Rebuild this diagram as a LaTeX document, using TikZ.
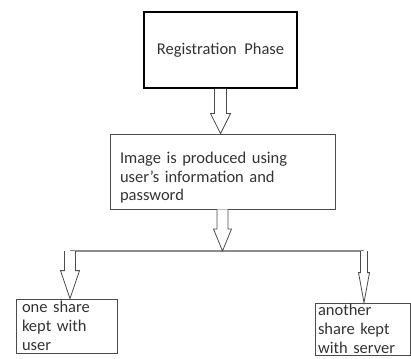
\documentclass[tikz,border=0pt]{standalone}
\usepackage{fontspec}
\setmainfont{Carlito}
\usetikzlibrary{positioning, calc}

% hollow block arrow pointing down: stem half width, head half width, head length, from, to
\newcommand{\hollowdown}[5]{%
  \draw[hollow] let \p1=(#4), \p2=(#5) in
    (\x1-#1,\y1) -- (\x1-#1,\y2+#3) -- (\x1-#2,\y2+#3) -- (\x1,\y2)
    -- (\x1+#2,\y2+#3) -- (\x1+#1,\y2+#3) -- (\x1+#1,\y1);}

\begin{document}
\begin{tikzpicture}[
    x=1pt, y=-1pt,
    box/.style={draw=black!70, line width=0.8pt, align=left, text=black!80,
      font=\fontsize{16.5}{18.8}\selectfont, inner ysep=0pt},
    hollow/.style={draw=black!70, line width=0.8pt, fill=white},
    bar/.style={draw=black!45, line width=1.8pt}
  ]
    \useasboundingbox (0,0) rectangle (411,358);
    \node[box, draw=black, line width=1.6pt, align=center, minimum width=153pt, minimum height=76pt] (reg)
      at (220.5,50) {Registration\ \ Phase};
    \node[box, text width=205pt, inner xsep=10pt, minimum height=75pt] (img)
      at (222.5,171.5) {\rule{0pt}{24pt}Image is produced using\\user's information and\\password};
    \node[box, text width=89pt, inner xsep=6pt, minimum height=54pt] (one)
      at (66.5,326) {one share\\kept with\\user};
    \node[box, text width=89pt, inner xsep=3pt, minimum height=52pt] (another)
      at (362.5,329) {another\\share kept\\with server};
    \coordinate (split) at (222,251);
    \coordinate (lft) at (70,251);
    \coordinate (rgt) at (364,251);
    \draw[bar] (lft) -- (rgt);
    \hollowdown{6pt}{10pt}{20pt}{reg.south}{img.north}
    \hollowdown{5.5pt}{9pt}{22pt}{img.south}{split}
    \hollowdown{5.5pt}{9.5pt}{28pt}{lft}{one.north}
    \hollowdown{3.5pt}{5.5pt}{30pt}{rgt}{another.north}
  \end{tikzpicture}
\end{document}
